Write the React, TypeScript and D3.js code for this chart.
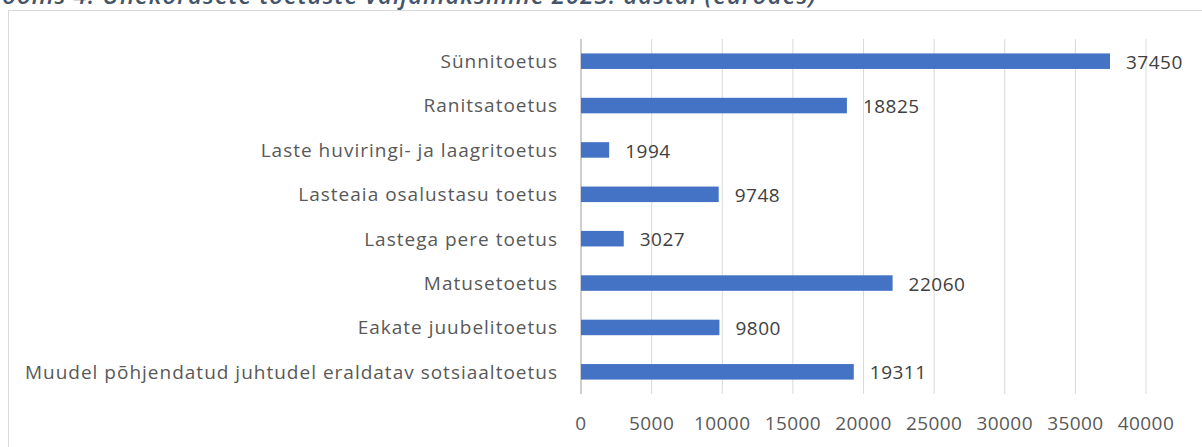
import * as d3 from 'd3'

const CATEGORIES = [
  'Sünnitoetus',
  'Ranitsatoetus',
  'Laste huviringi- ja laagritoetus',
  'Lasteaia osalustasu toetus',
  'Lastega pere toetus',
  'Matusetoetus',
  'Eakate juubelitoetus',
  'Muudel põhjendatud juhtudel eraldatav sotsiaaltoetus',
]
const VALUES = [37450, 18825, 1994, 9748, 3027, 22060, 9800, 19311]
const X_TICKS = [0, 5000, 10000, 15000, 20000, 25000, 30000, 35000, 40000]
const CAPTION = 'Joonis 4. Ühekordsete toetuste väljamaksmine 2023. aastal (eurodes)'

const WIDTH = 1202
const HEIGHT = 447
const FONT = '"Open Sans", "Noto Sans", sans-serif'
const BAR_COLOR = '#4472C4'
const GRID_COLOR = '#d9d9d9'

export default function App() {
  const x = d3.scaleLinear([0, 40000], [581, 1146])
  const y = d3.scaleBand(CATEGORIES, [39, 394]).paddingInner(0.65).paddingOuter(0.325)

  return (
    <svg
      width={WIDTH}
      height={HEIGHT}
      style={{ position: 'absolute', left: 0, top: 0, background: '#fff' }}
      fontFamily={FONT}
    >
      {/* caption sits above the chart frame and is clipped by the page edge */}
      <text
        x={-6}
        y={4}
        fontSize={24}
        letterSpacing={1}
        fontStyle="italic"
        fontWeight={600}
        fill="#44546A"
      >
        {CAPTION}
      </text>
      <rect x={8.5} y={10.5} width={1220} height={460} fill="none" stroke={GRID_COLOR} />
      {X_TICKS.map((t) => (
        <g key={t}>
          {t > 0 && <line x1={x(t)} x2={x(t)} y1={39} y2={394} stroke={GRID_COLOR} />}
          <text
            x={x(t)}
            y={430}
            textAnchor="middle"
            fontSize={19}
            letterSpacing={0.4}
            fill="#595959"
          >
            {t}
          </text>
        </g>
      ))}
      <line x1={x(0)} x2={x(0)} y1={39} y2={394} stroke="#bfbfbf" strokeWidth={1.5} />
      {CATEGORIES.map((c, i) => {
        const yc = y(c)! + y.bandwidth() / 2
        return (
          <g key={c}>
            <text
              x={558}
              y={yc}
              dy="0.36em"
              textAnchor="end"
              fontSize={19}
              letterSpacing={1}
              fill="#595959"
            >
              {c}
            </text>
            <rect
              x={x(0)}
              y={y(c)}
              width={x(VALUES[i]) - x(0)}
              height={y.bandwidth()}
              fill={BAR_COLOR}
            />
            <text
              x={x(VALUES[i]) + 16}
              y={yc}
              dy="0.4em"
              fontSize={19}
              letterSpacing={0.5}
              fill="#404040"
            >
              {VALUES[i]}
            </text>
          </g>
        )
      })}
    </svg>
  )
}
